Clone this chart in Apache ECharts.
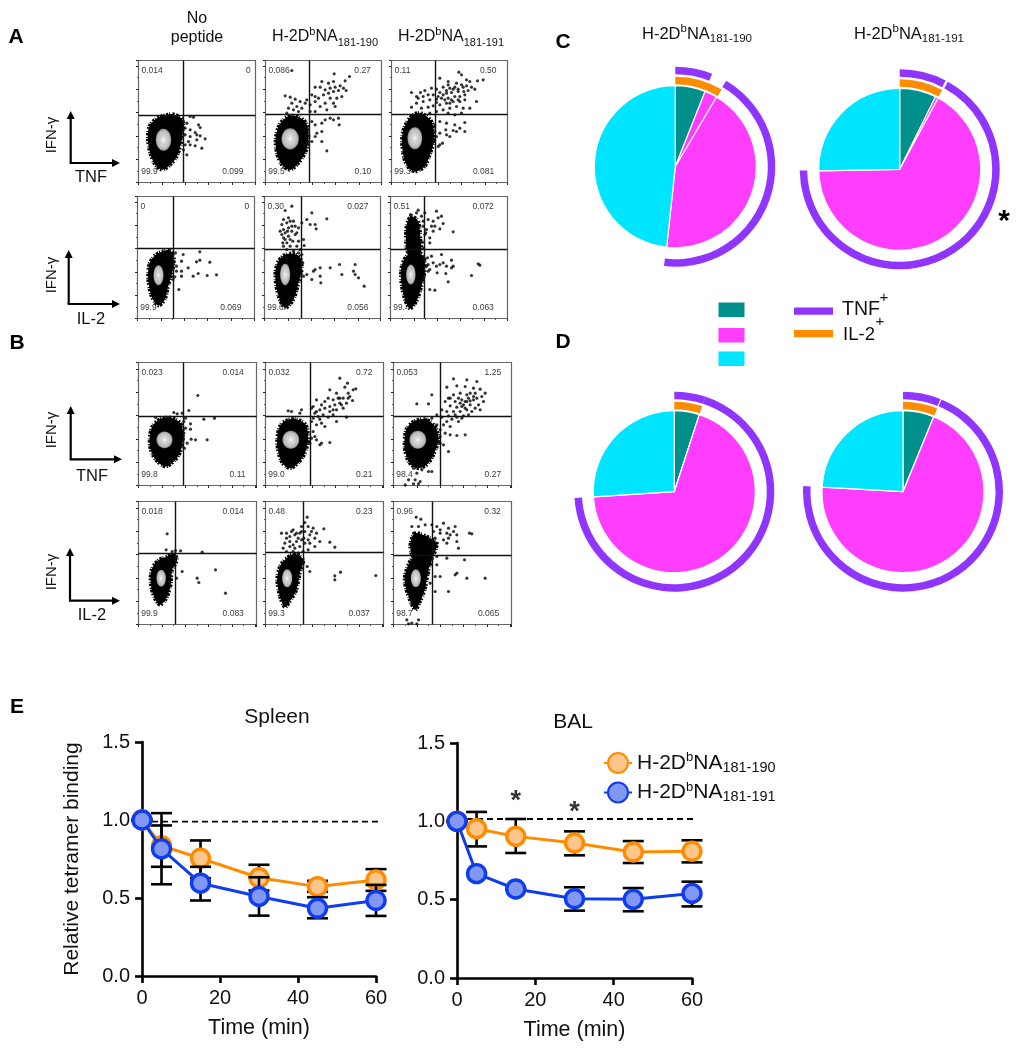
<!DOCTYPE html>
<html><head><meta charset="utf-8"><style>html,body{margin:0;padding:0;background:#fff}#c{width:1022px;height:1050px}</style>
<script src="https://cdn.jsdelivr.net/npm/echarts@6/dist/echarts.min.js"></script></head><body><div id="c"></div>
<script>
// ---------- Panel A/B flow data (arbitrary channel units) ----------
const gatesA1=[[133,203],[132,204],[130,205]];
const gatesA2=[[107,210],[110,209],[102,207]];
const gatesB1=[[134,207],[134,207],[139,207]];
const gatesB2=[[110,214],[112,216],[116,209]];
const quadA1=[['0.014','0','99.9','0.099'],['0.086','0.27','99.5','0.10'],['0.11','0.50','99.3','0.081']];
const quadA2=[['0','0','99.9','0.069'],['0.30','0.027','99.6','0.056'],['0.51','0.072','99.4','0.063']];
const quadB1=[['0.023','0.014','99.8','0.11'],['0.032','0.72','99.0','0.21'],['0.053','1.25','98.4','0.27']];
const quadB2=[['0.018','0.014','99.9','0.083'],['0.48','0.23','99.3','0.037'],['0.96','0.32','98.7','0.065']];
const blobA1a=[[[105,205],[132,188],[130,128],[115,78],[95,53],[72,38],[50,53],[35,88],[28,128],[32,168],[55,193],[85,203]]];
const blobA1b=[[[84,201],[119,183],[129,138],[121,93],[99,58],[74,38],[49,53],[34,88],[30,128],[39,168],[59,193]]];
const blobA1c=[[[90,208],[120,183],[128,128],[115,83],[100,48],[70,33],[45,53],[33,98],[33,148],[50,188],[70,206]]];
const blobA2a=[[[97,205],[109,187],[105,142],[92,97],[82,57],[62,39],[42,67],[32,117],[35,162],[52,189],[77,202]]];
const blobA2b=[[[77,195],[104,187],[112,157],[102,107],[87,57],[62,32],[42,67],[32,127],[39,167],[57,189]]];
const blobA2c=[[[73,200],[98,187],[103,147],[93,97],[78,52],[58,30],[40,67],[31,127],[36,167],[53,192]],[[63,307],[83,292],[90,237],[90,197],[53,197],[46,247],[50,287]]];
const blobB1a=[[[96,204],[126,187],[134,147],[126,102],[106,72],[81,57],[56,72],[38,102],[33,142],[44,182],[71,202]]];
const blobB1b=[[[93,199],[121,182],[128,137],[118,97],[98,67],[73,52],[51,67],[38,102],[35,142],[45,182],[68,197]]];
const blobB1c=[[[95,199],[125,177],[135,137],[120,92],[100,62],[70,52],[45,72],[33,117],[38,167],[60,192]]];
const blobB2a=[[[106,212],[116,194],[101,164],[96,114],[81,74],[64,59],[46,84],[36,129],[41,169],[61,194],[86,204]]];
const blobB2b=[[[88,212],[113,194],[103,154],[93,104],[73,69],[58,52],[43,84],[35,134],[43,174],[63,199]]];
const blobB2c=[[[90,224],[115,204],[105,164],[95,109],[80,69],[65,44],[45,84],[33,134],[42,174],[60,204]],[[65,274],[110,259],[130,244],[115,204],[65,194],[50,234]]];
const coresA1=[[75,128,23,33],[74,131,26,32],[70,133,22,33]];
const coresA2=[[63,130,15,30],[62,132,15,32],[61,132,14,30]];
const coresB1=[[78,137,24,25],[76,137,25,27],[73,137,25,27]];
const coresB2=[[68,139,14,25],[65,139,15,27],[67,139,15,27]];
const dotsA1a=[[155,198],[165,196],[145,178],[180,173],[185,165],[155,158],[140,163],[170,150],[175,143],[185,140],[200,131],[155,138],[140,143],[150,123],[175,128],[190,103],[155,113],[170,110],[140,113],[135,98],[145,83]];
const dotsA1b=[[79,336],[206,326],[252,318],[239,305],[204,303],[189,298],[169,303],[149,286],[139,263],[149,258],[164,286],[179,278],[194,283],[209,286],[224,290],[234,283],[242,276],[219,276],[204,273],[189,268],[174,263],[159,253],[149,243],[134,233],[194,253],[214,253],[229,258],[204,238],[179,238],[164,228],[149,213],[134,213],[184,218],[209,228],[219,193],[204,188],[194,193],[179,188],[169,178],[149,173],[139,183],[221,173],[154,148],[169,153],[149,138],[139,123],[169,123],[129,158],[184,95],[129,113],[59,260],[74,256],[89,250],[104,243],[79,238],[94,228],[109,223],[84,218],[69,223],[99,213],[119,238],[124,248],[64,208]];
const dotsA1c=[[275,308],[258,305],[202,331],[210,323],[225,308],[235,303],[145,313],[170,303],[195,298],[210,293],[225,290],[240,286],[190,286],[175,283],[155,286],[135,280],[120,283],[100,276],[87,270],[60,270],[75,258],[95,258],[110,263],[125,263],[145,270],[165,268],[180,270],[200,273],[217,273],[230,276],[250,280],[205,258],[190,258],[170,253],[150,253],[135,250],[115,248],[95,243],[75,238],[60,226],[165,238],[185,243],[205,243],[220,248],[255,243],[145,233],[125,230],[110,226],[90,223],[175,223],[195,228],[215,223],[235,223],[155,218],[135,213],[115,208],[170,208],[190,203],[210,208],[145,183],[165,178],[130,173],[190,173],[220,180],[205,163],[185,156],[163,158],[145,148],[130,153],[175,138],[153,118],[140,108],[165,143],[195,153],[220,153],[130,128],[145,113],[135,138],[80,253],[170,293],[180,248],[200,248],[220,263],[155,263],[135,240],[140,258],[160,248],[175,238],[185,280],[200,280],[215,286],[165,276]];
const dotsA2a=[[114,197],[137,192],[187,200],[217,169],[177,170],[187,175],[132,172],[117,157],[152,152],[167,127],[182,135],[209,129],[237,131],[132,142],[117,142],[112,125],[124,87],[107,167],[107,117],[132,127]];
const dotsA2b=[[82,337],[62,324],[142,317],[187,299],[127,297],[112,287],[137,282],[152,282],[155,269],[72,302],[57,297],[87,292],[52,282],[67,287],[92,277],[102,272],[57,267],[72,272],[82,262],[62,257],[52,252],[92,252],[72,247],[57,242],[77,237],[67,227],[57,217],[77,217],[67,207],[87,202],[97,217],[102,232],[117,237],[119,219],[107,207],[112,192],[115,167],[152,147],[167,152],[197,152],[225,162],[272,162],[232,132],[272,132],[282,122],[299,97],[267,142],[167,127],[169,107],[142,117],[112,142],[127,132],[147,142],[117,127],[102,197],[82,277],[62,237],[47,262],[55,227],[85,232],[69,262],[97,257],[77,292]];
const dotsA2c=[[83,325],[103,317],[138,322],[153,307],[158,285],[188,260],[143,302],[128,292],[113,297],[98,292],[123,277],[133,277],[108,267],[128,262],[148,269],[103,252],[118,242],[93,307],[60,312],[118,227],[96,229],[100,212],[123,187],[153,192],[183,175],[263,164],[268,160],[183,152],[168,157],[148,162],[128,167],[113,162],[118,147],[140,137],[166,135],[243,129],[173,110],[113,142],[98,122],[118,87],[133,85],[108,157],[138,157],[158,167],[188,157],[111,182],[103,177],[78,317],[68,297],[98,277],[106,257]];
const dotsB1a=[[178,270],[151,225],[106,219],[116,215],[131,217],[196,199],[228,202],[141,202],[156,185],[141,172],[156,169],[158,139],[206,137],[146,127],[138,112],[136,157],[136,192],[171,137],[51,204],[126,177]];
const dotsB1b=[[223,322],[246,307],[238,295],[271,290],[263,287],[193,287],[213,277],[248,277],[253,267],[233,262],[218,262],[203,257],[188,262],[178,252],[168,242],[153,257],[143,237],[261,255],[243,247],[223,247],[208,242],[193,237],[178,232],[163,227],[153,222],[148,217],[138,232],[233,232],[213,227],[193,222],[243,205],[203,212],[188,205],[173,212],[158,207],[143,202],[108,227],[103,217],[68,224],[78,222],[168,187],[178,177],[153,182],[138,192],[143,162],[138,142],[153,137],[168,127],[193,129],[163,122],[148,147],[133,127],[213,192],[228,242],[248,262],[203,227],[223,262],[163,199]];
const dotsB1c=[[180,320],[220,317],[250,312],[160,295],[190,299],[215,297],[240,292],[260,289],[275,277],[115,272],[70,245],[105,245],[165,262],[180,272],[200,277],[220,272],[245,277],[265,267],[270,252],[185,252],[205,257],[225,262],[240,257],[255,242],[260,227],[155,252],[170,239],[190,235],[210,242],[230,242],[245,232],[160,222],[180,222],[200,222],[220,227],[235,222],[145,227],[165,209],[190,205],[210,209],[225,212],[175,199],[195,192],[160,192],[145,205],[130,212],[115,202],[100,197],[150,182],[130,182],[170,177],[215,232],[205,237],[195,262],[215,252],[230,277],[240,267],[220,252],[200,247],[140,167],[155,157],[170,152],[190,150],[215,152],[140,147],[150,122],[165,102],[140,127],[230,254],[250,262],[185,212],[205,202],[170,262],[70,72],[80,62],[60,52],[85,47],[70,37],[105,42],[115,42],[45,17],[65,17],[80,12],[35,2],[60,5],[75,5]];
const dotsB2a=[[86,272],[83,224],[111,222],[126,221],[191,217],[131,159],[231,164],[176,139],[181,126],[261,94],[114,139],[101,219]];
const dotsB2b=[[125,322],[118,306],[128,294],[143,289],[175,287],[108,294],[83,284],[63,274],[48,274],[73,264],[88,269],[103,274],[118,279],[133,269],[153,274],[148,259],[163,249],[193,247],[208,232],[128,254],[108,254],[93,249],[73,249],[58,244],[53,229],[73,234],[88,229],[103,234],[118,244],[133,244],[148,234],[63,219],[83,219],[98,214],[113,219],[128,224],[78,204],[98,194],[125,174],[133,159],[208,146],[225,157],[208,134],[331,147],[93,274],[108,279],[138,279],[63,259],[78,279],[83,239],[98,259],[115,259]];
const dotsB2c=[[68,322],[82,316],[95,299],[75,294],[55,294],[115,299],[150,304],[130,294],[165,289],[185,294],[228,274],[235,272],[190,269],[160,274],[140,274],[120,279],[165,259],[150,254],[190,249],[130,244],[195,229],[160,244],[125,259],[60,274],[60,254],[55,234],[130,204],[160,199],[213,194],[130,179],[140,144],[125,144],[190,154],[185,149],[220,139],[275,139],[165,99],[125,99],[110,124],[105,154],[110,184],[40,14],[55,4],[70,2],[75,14],[45,2],[140,284],[180,279],[170,269]];
// ---------- Panels C/D slice shares (%) ----------
const sliceNames=['IFN+TNF+IL-2+','IFN+IL-2+','IFN+TNF+','IFN only'];
const c1Slices=[6.0,2.5,43.2,48.3];
const c2Slices=[7.3,0.6,66.8,25.3];
const d1Slices=[5.0,0.0,69.0,26.0];
const d2Slices=[6.2,0.0,69.7,24.1];
const c1Tnf=[6.0,2.5,43.3]; const c1Il2=8.6;
const c2Tnf=[7.6,0.4,66.8]; const c2Il2=7.8;
const d1Tnf=[5.0,0.0,69.0]; const d1Il2=5.0;
const d2Tnf=[6.1,0.2,69.6]; const d2Il2=6.2;
// ---------- Panel E ----------
const times=[0,5,15,30,45,60];
const spleen190=[1.0,0.835,0.755,0.63,0.573,0.616];
const spleen191=[1.0,0.815,0.595,0.51,0.434,0.484];
const spleen190Lo=[1.0,0.70,0.627,0.548,0.54,0.546];
const spleen190Hi=[1.0,0.965,0.869,0.713,0.61,0.685];
const spleen191Lo=[1.0,0.588,0.484,0.387,0.37,0.385];
const spleen191Hi=[1.0,1.044,0.70,0.633,0.505,0.584];
const bal190=[1.0,0.953,0.904,0.862,0.804,0.809];
const bal191=[1.0,0.666,0.568,0.506,0.502,0.54];
const bal190Lo=[1.0,0.84,0.798,0.783,0.734,0.738];
const bal190Hi=[1.0,1.06,1.015,0.936,0.874,0.879];
const bal191Lo=[1.0,0.666,0.568,0.43,0.426,0.457];
const bal191Hi=[1.0,0.666,0.568,0.579,0.574,0.615];
const baseline=[0.99,1.015];
const sigBal=[[15,1.125],[30,1.055]];

const FONT='"Liberation Sans",Arial,sans-serif';
const TEAL='#00908C',MAG='#FF3DFF',CYAN='#00E5FF',PUR='#9035FF',ORG='#FF8C00',BLU='#0F3CF0';
const N190='H-2DbNA181-190',N191='H-2DbNA181-191';

const grids=[],xAxes=[],yAxes=[],series=[];
function flow(left,top,w,h,gate,quad,blob,core,dots,rightUR,rightLR){
  const i=grids.length;
  grids.push({left,top,width:w,height:h,show:true,borderColor:'#666',borderWidth:1.2,backgroundColor:'#fff'});
  const ax=(o)=>Object.assign({gridIndex:i,type:'value',min:0,interval:70,axisLine:{show:false},axisLabel:{show:false},splitLine:{show:false},
    axisTick:{show:true,length:2.5,lineStyle:{color:'#222',width:1}},minorTick:{show:true,splitNumber:2,length:1.5,lineStyle:{color:'#555'}}},o);
  xAxes.push(ax({max:w*3})); yAxes.push(ax({max:h*3}));
  series.push({type:'custom',xAxisIndex:i,yAxisIndex:i,silent:true,z:2,data:blob.map((p,k)=>[k]),encode:{x:0},
    renderItem:(params,api)=>({type:'polygon',shape:{points:blob[params.dataIndex].map(p=>api.coord(p)),smooth:0.3},style:{fill:'#000',stroke:'#000',lineWidth:3.6,lineDash:[1.1,1.6,2.2,0.9,0.8,2.3,1.6,1.2,2.6,0.8]}})});
  series.push({type:'custom',xAxisIndex:i,yAxisIndex:i,silent:true,z:3,data:[core],renderItem:(params,api)=>{
    const c=api.coord([api.value(0),api.value(1)]),s=api.size([api.value(2),api.value(3)]);
    const rings=[[1,'#9a9a9a'],[0.88,'#bdbdbd'],[0.68,'#c9c9c9'],[0.45,'#d6d6d6'],[0.22,'#e6e6e6'],[0.1,'#ffffff']];
    return {type:'group',children:rings.map(r=>({type:'ellipse',shape:{cx:c[0],cy:c[1],rx:s[0]*r[0],ry:s[1]*r[0]},style:{fill:r[1]}}))};
  }});
  series.push({type:'scatter',xAxisIndex:i,yAxisIndex:i,silent:true,z:4,symbol:'circle',symbolSize:3.1,itemStyle:{color:'#000'},data:dots,
    markLine:{silent:true,symbol:'none',label:{show:false},lineStyle:{color:'#111',type:'solid',width:1.4},data:[{xAxis:gate[0]},{yAxis:gate[1]}]}});
  const lbl=(pos)=>({show:true,position:pos,distance:0,formatter:p=>p.value[2],fontFamily:FONT,fontSize:8.5,color:'#000'});
  series.push({type:'scatter',xAxisIndex:i,yAxisIndex:i,silent:true,z:5,symbolSize:0,label:lbl('right'),data:[[9,h*3-29,quad[0]],[8,32,quad[2]]]});
  series.push({type:'scatter',xAxisIndex:i,yAxisIndex:i,silent:true,z:5,symbolSize:0,label:lbl('left'),data:[[rightUR,h*3-29,quad[1]],[rightLR,32,quad[3]]]});
}
flow(138.5,60.5,117,122,gatesA1[0],quadA1[0],blobA1a,coresA1[0],dotsA1a,337,315);
flow(265.5,60.5,116,122,gatesA1[1],quadA1[1],blobA1b,coresA1[1],dotsA1b,316,317);
flow(391.5,60.5,116,122,gatesA1[2],quadA1[2],blobA1c,coresA1[2],dotsA1c,315,308);
flow(137.5,196.5,117,122,gatesA2[0],quadA2[0],blobA2a,coresA2[0],dotsA2a,335,312);
flow(264.5,196.5,116,122,gatesA2[1],quadA2[1],blobA2b,coresA2[1],dotsA2b,312,312);
flow(390.5,196.5,117,122,gatesA2[2],quadA2[2],blobA2c,coresA2[2],dotsA2c,310,310);
flow(138.5,362.5,118,123,gatesB1[0],quadB1[0],blobB1a,coresB1[0],dotsB1a,316,321);
flow(265.5,362.5,118,123,gatesB1[1],quadB1[1],blobB1b,coresB1[1],dotsB1b,321,321);
flow(393.5,362.5,118,123,gatesB1[2],quadB1[2],blobB1c,coresB1[2],dotsB1c,323,323);
flow(138.5,501.5,118,123,gatesB2[0],quadB2[0],blobB2a,coresB2[0],dotsB2a,316,316);
flow(265.5,501.5,118,123,gatesB2[1],quadB2[1],blobB2b,coresB2[1],dotsB2b,321,313);
flow(393.5,501.5,118,123,gatesB2[2],quadB2[2],blobB2c,coresB2[2],dotsB2c,322,317);

function pie(cx,cy,slices,tnf,il2){
  const base={type:'pie',center:[cx,cy],startAngle:90,clockwise:true,silent:true,label:{show:false},labelLine:{show:false},emphasis:{disabled:true},avoidLabelOverlap:false,animation:false,minShowLabelAngle:360};
  const cols=[TEAL,MAG,MAG,CYAN];
  series.push(Object.assign({},base,{radius:[0,81],z:2,itemStyle:{borderColor:'#fff',borderWidth:1.2},
    data:slices.map((v,i)=>({name:sliceNames[i],value:v,itemStyle:{color:cols[i]}}))}));
  const none={color:'rgba(0,0,0,0)'};
  const tnfRest=100-tnf[0]-tnf[1]-tnf[2];
  series.push(Object.assign({},base,{radius:[92.5,100],z:2,data:[
    {name:'TNF+',value:tnf[0],itemStyle:{color:PUR}},{name:'gap',value:tnf[1],itemStyle:none},
    {name:'TNF+',value:tnf[2],itemStyle:{color:PUR}},{name:'rest',value:tnfRest,itemStyle:none}]}));
  series.push(Object.assign({},base,{radius:[82.5,90],z:2,data:[
    {name:'IL-2+',value:il2,itemStyle:{color:ORG}},{name:'rest',value:100-il2,itemStyle:none}]}));
}
pie(675.3,166.7,c1Slices,c1Tnf,c1Il2);
pie(899.7,169.3,c2Slices,c2Tnf,c2Il2);
pie(674.3,491.7,d1Slices,d1Tnf,d1Il2);
pie(903,491.7,d2Slices,d2Tnf,d2Il2);

function linePanel(left,top,w,h,yName,a190,a191,lo190,hi190,lo191,hi191,dash,dashEnd){
  const i=grids.length;
  grids.push({left,top,width:w,height:h,show:false});
  xAxes.push({gridIndex:i,type:'value',min:0,max:60,interval:20,name:'Time (min)',nameLocation:'middle',nameGap:41,
    nameTextStyle:{fontFamily:FONT,fontSize:21.5,color:'#111'},
    axisLine:{onZero:false,lineStyle:{color:'#000',width:2.6}},axisTick:{length:7,lineStyle:{color:'#000',width:2.6}},
    axisLabel:{fontFamily:FONT,fontSize:20,color:'#111',margin:12},splitLine:{show:false}});
  yAxes.push({gridIndex:i,type:'value',min:0,max:1.5,interval:0.5,name:yName,nameLocation:'middle',nameGap:59,
    nameTextStyle:{fontFamily:FONT,fontSize:21,color:'#111'},
    axisLine:{onZero:false,lineStyle:{color:'#000',width:2.6}},axisTick:{length:7,lineStyle:{color:'#000',width:2.6}},
    axisLabel:{fontFamily:FONT,fontSize:20,color:'#111',margin:12,formatter:v=>v.toFixed(1)},splitLine:{show:false}});
  series.push({type:'line',xAxisIndex:i,yAxisIndex:i,silent:true,clip:false,z:2,symbol:'none',lineStyle:{color:'#000',width:1.8,type:[6,4]},data:[[0,dash],[dashEnd,dash]]});
  const eb=(lo,hi,z)=>({type:'custom',xAxisIndex:i,yAxisIndex:i,silent:true,z,clip:false,encode:{x:0,y:[1,2]},
    data:times.map((t,k)=>[t,lo[k],hi[k]]),renderItem:(p,api)=>{
      const a=api.coord([api.value(0),api.value(1)]),b=api.coord([api.value(0),api.value(2)]);
      const st={stroke:'#000',lineWidth:2.6};
      return {type:'group',children:[
        {type:'line',shape:{x1:a[0],y1:a[1],x2:b[0],y2:b[1]},style:st},
        {type:'line',shape:{x1:a[0]-10.5,y1:a[1],x2:a[0]+10.5,y2:a[1]},style:st},
        {type:'line',shape:{x1:b[0]-10.5,y1:b[1],x2:b[0]+10.5,y2:b[1]},style:st}]};
    }});
  const ln=(name,arr,col,fill,z)=>({type:'line',name,xAxisIndex:i,yAxisIndex:i,clip:false,silent:true,z,symbol:'circle',symbolSize:18,
    lineStyle:{color:col,width:3},itemStyle:{color:fill,borderColor:col,borderWidth:3.4,opacity:1},data:times.map((t,k)=>[t,arr[k]])});
  series.push(eb(lo190,hi190,3),ln(N190,a190,ORG,'#FFC68C',4),eb(lo191,hi191,5),ln(N191,a191,BLU,'#8098F2',6));
  return i;
}
linePanel(142,742,234,234,'Relative tetramer binding',spleen190,spleen191,spleen190Lo,spleen190Hi,spleen191Lo,spleen191Hi,baseline[0],63);
const balIdx=linePanel(457,743,235,235,'',bal190,bal191,bal190Lo,bal190Hi,bal191Lo,bal191Hi,baseline[1],62);
series.push({type:'scatter',xAxisIndex:balIdx,yAxisIndex:balIdx,silent:true,z:7,symbolSize:0,data:sigBal,
  label:{show:true,position:'inside',formatter:'*',fontFamily:FONT,fontSize:27,fontWeight:'bold',color:'#000'}});

// ---------- text & decorations ----------
const g=[];
const txt=(text,x,y,size,o)=>g.push(Object.assign({type:'text',x,y,silent:true,style:Object.assign({text,fontFamily:FONT,fontSize:size,fill:'#111',textAlign:'center',textVerticalAlign:'middle'},o&&o.style||{})},o&&o.el||{}));
[['A',16,37],['B',17,343],['C',563,42],['D',563,342],['E',17,707]].forEach(a=>txt(a[0],a[1],a[2],21,{style:{fontWeight:'bold',fill:'#000'}}));
txt('No',197,19,16); txt('peptide',197,38,16);
function rich(x,y,base,sub,small){
  g.push({type:'text',x,y,silent:true,style:{
    text:'{n|H-2D}{s|b}{n|NA}{u|'+sub+'}',fontFamily:FONT,textAlign:'center',textVerticalAlign:'middle',fill:'#111',
    rich:{n:{fontFamily:FONT,fontSize:base,lineHeight:base+6,fill:'#111',verticalAlign:'middle'},
      s:{fontFamily:FONT,fontSize:small,lineHeight:base+2,fill:'#111',verticalAlign:'top'},
      u:{fontFamily:FONT,fontSize:small,lineHeight:base+2,fill:'#111',verticalAlign:'bottom'}}}});
}
rich(325,37,16,'181-190',11); rich(451,37,16,'181-191',11);
rich(697,34,16.5,'181-190',11.5); rich(909,34,16.5,'181-191',11.5);
function arrow(cx,cy,top,right,xLab,xy,ly){
  const s={stroke:'#000',lineWidth:2.2},f={fill:'#000'};
  g.push({type:'line',silent:true,shape:{x1:cx,y1:cy,x2:cx,y2:top+6},style:s});
  g.push({type:'line',silent:true,shape:{x1:cx-1,y1:cy,x2:right-6,y2:cy},style:s});
  g.push({type:'polygon',silent:true,shape:{points:[[cx,top],[cx-4,top+8],[cx+4,top+8]]},style:f});
  g.push({type:'polygon',silent:true,shape:{points:[[right,cy],[right-8,cy-4],[right-8,cy+4]]},style:f});
  txt('IFN-γ',52,ly,15,{el:{rotation:Math.PI/2}});
  txt(xLab,xy[0],xy[1],16.5);
}
arrow(70.7,163,111,120,'TNF',[91,177],135);
arrow(68.7,304,250,120,'IL-2',[91,319],275);
arrow(70.7,459.3,406,122,'TNF',[92,476],430);
arrow(70,600.7,548,120,'IL-2',[92,615],572);
[[TEAL,302.5],[MAG,328],[CYAN,351.5]].forEach(r=>g.push({type:'rect',silent:true,shape:{x:718.5,y:r[1],width:26,height:14.5},style:{fill:r[0]}}));
[[PUR,307.5],[ORG,330]].forEach(r=>g.push({type:'rect',silent:true,shape:{x:794,y:r[1],width:39,height:7.2},style:{fill:r[0]}}));
txt('TNF',861,310,19.5);txt('+',884,298,15);
txt('IL-2',859,335,18.5);txt('+',880,322,15);
txt('*',1004,222,30,{style:{fill:'#000',fontWeight:'bold'}});
txt('Spleen',277,717,21); txt('BAL',573,722,21);

const chart=echarts.init(document.getElementById('c'),null,{renderer:'canvas'});
chart.setOption({animation:false,backgroundColor:'#fff',grid:grids,xAxis:xAxes,yAxis:yAxes,series,graphic:{elements:g},
  legend:{data:[N190,N191],orient:'vertical',left:598,top:746,itemWidth:28,itemHeight:25,itemGap:5.5,selectedMode:false,
    formatter:n=>'{n|H-2D}{s|b}{n|NA}{u|'+n.slice(-7)+'}',
    textStyle:{fontFamily:FONT,rich:{n:{fontFamily:FONT,fontSize:21,lineHeight:24,color:'#111',verticalAlign:'middle'},
      s:{fontFamily:FONT,fontSize:13,lineHeight:24,color:'#111',verticalAlign:'top'},u:{fontFamily:FONT,fontSize:14.5,lineHeight:24,color:'#111',verticalAlign:'bottom'}}}}});
</script></body></html>
